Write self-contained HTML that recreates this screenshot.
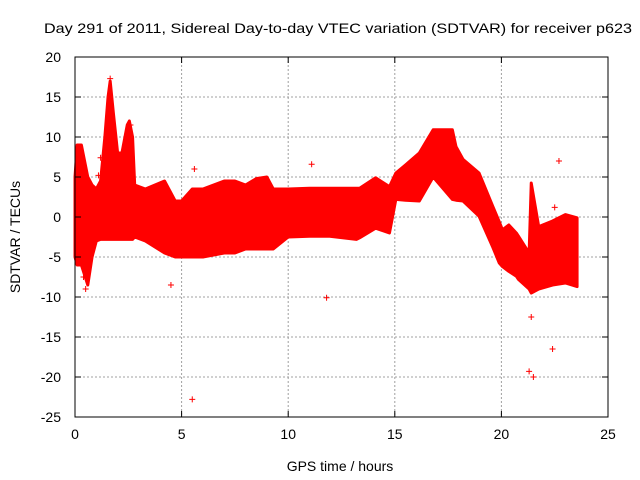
<!DOCTYPE html>
<html><head><meta charset="utf-8"><style>
html,body{margin:0;padding:0;background:#fff;}
svg{display:block;font-family:"Liberation Sans",sans-serif;}
</style></head><body>
<svg id="chart" width="640" height="480" viewBox="0 0 640 480">
<text x="44" y="33" textLength="588" lengthAdjust="spacingAndGlyphs" font-size="14" fill="#000">Day 291 of 2011, Sidereal Day-to-day VTEC variation (SDTVAR) for receiver p623</text>
<g id="grid"></g>
<g id="band"></g>
<g id="outliers"></g>
<rect x="75" y="57" width="533" height="360" fill="none" stroke="#000" stroke-width="1"/>
<g id="ticks"></g>
<text x="340" y="471" text-anchor="middle" font-size="14">GPS time / hours</text>
<text transform="translate(20,237) rotate(-90)" text-anchor="middle" font-size="14">SDTVAR / TECUs</text>
</svg>
<script>
const xTicks=[0,5,10,15,20,25];
const yTicks=[20,15,10,5,0,-5,-10,-15,-20,-25];
const times=[0,0.1,0.3,0.6,0.8,1.0,1.2,1.4,1.55,1.65,1.8,2.0,2.2,2.45,2.55,2.7,2.8,3.3,4.2,4.7,5.0,5.5,6,7,7.5,8,8.5,9,9.3,10,11,11.95,13.2,13.35,14.1,14.75,15.05,15.5,16.15,16.8,17.7,17.87,18.2,18.95,19.6,19.9,20.05,20.35,20.7,20.8,21.3,21.4,21.75,22.4,23,23.55];
const upper=[5,9,9,5,4,3.5,4.5,10,15,17,13,8,8,11.5,12,10,4,3.5,4.5,2,2,3.5,3.5,4.5,4.5,4,4.8,5,3.5,3.5,3.6,3.6,3.6,3.6,4.9,3.8,5.5,6.5,8,10.9,10.9,8.8,7.2,5.5,1.3,-0.6,-1.6,-1,-2,-2.4,-4.5,4.25,-1.2,-0.5,0.3,-0.1];
const lower=[-5,-6,-6,-8.5,-5,-3,-2.8,-2.8,-2.8,-2.8,-2.8,-2.8,-2.8,-2.8,-2.8,-2.8,-2.5,-3,-4.5,-5,-5,-5,-5,-4.5,-4.5,-4,-4,-4,-4,-2.5,-2.4,-2.4,-2.8,-2.6,-1.4,-2,2.2,2.1,2,5,2.2,2.1,2,0.1,-3.8,-5.75,-6.2,-6.8,-7.4,-7.8,-9,-9.5,-9,-8.5,-8.25,-8.7];
const outT=[0.5,4.5,5.5,5.6,11.1,11.8,21.3,21.5,22.4,22.7,22.5,21.4,1.65,2.6,0.4,1.2,1.1];
const outV=[-9,-8.5,-22.8,6,6.6,-10.1,-19.3,-20,-16.5,7,1.2,-12.5,17.3,11.5,-7.5,7.4,5.2];
const X0=75,X1=608,Y0=417,Y1=57;
const sx=v=>X0+(v-0)/25*(X1-X0);
const sy=v=>Y0-(v+25)/45*(Y0-Y1);
const NS="http://www.w3.org/2000/svg";
const mk=(t,a,p)=>{const e=document.createElementNS(NS,t);for(const k in a)e.setAttribute(k,a[k]);p.appendChild(e);return e;};
const grid=document.getElementById('grid'),ticks=document.getElementById('ticks');
xTicks.forEach(v=>{
 if(v>0&&v<25){const l=mk('line',{x1:sx(v),x2:sx(v),y1:Y1,y2:Y0,stroke:'#a0a0a0','stroke-dasharray':'2,2'},grid);
 
 }
 mk('line',{x1:sx(v),x2:sx(v),y1:Y0,y2:Y0-6,stroke:'#000'},ticks);
 mk('line',{x1:sx(v),x2:sx(v),y1:Y1,y2:Y1+6,stroke:'#000'},ticks);
 const t=mk('text',{x:sx(v),y:Y0+22,'text-anchor':'middle','font-size':14},ticks);t.textContent=v;
 
 
});
yTicks.forEach(v=>{
 if(v<20&&v>-25){const l=mk('line',{x1:X0,x2:X1,y1:sy(v),y2:sy(v),stroke:'#a0a0a0','stroke-dasharray':'2,2'},grid);
 
 }
 mk('line',{x1:X0,x2:X0+6,y1:sy(v),y2:sy(v),stroke:'#000'},ticks);
 mk('line',{x1:X1,x2:X1-6,y1:sy(v),y2:sy(v),stroke:'#000'},ticks);
 const t=mk('text',{x:X0-14,y:sy(v)+5,'text-anchor':'end','font-size':14},ticks);t.textContent=v;
 
 
});
let pts=times.map((t,i)=>sx(t)+','+sy(upper[i]));
for(let i=times.length-1;i>=0;i--)pts.push(sx(times[i])+','+sy(lower[i]));
const poly=mk('polygon',{points:pts.join(' '),fill:'#ff0000',stroke:'#ff0000','stroke-width':3,'stroke-linejoin':'round'},document.getElementById('band'));


const og=document.getElementById('outliers');
outT.forEach((t,i)=>{
 const x=sx(t),y=sy(outV[i]);
 const p=mk('path',{d:`M${x-3},${y}H${x+3}M${x},${y-3}V${y+3}`,stroke:'#ff0000','stroke-width':1},og);
 
 
});
</script>
</body></html>
